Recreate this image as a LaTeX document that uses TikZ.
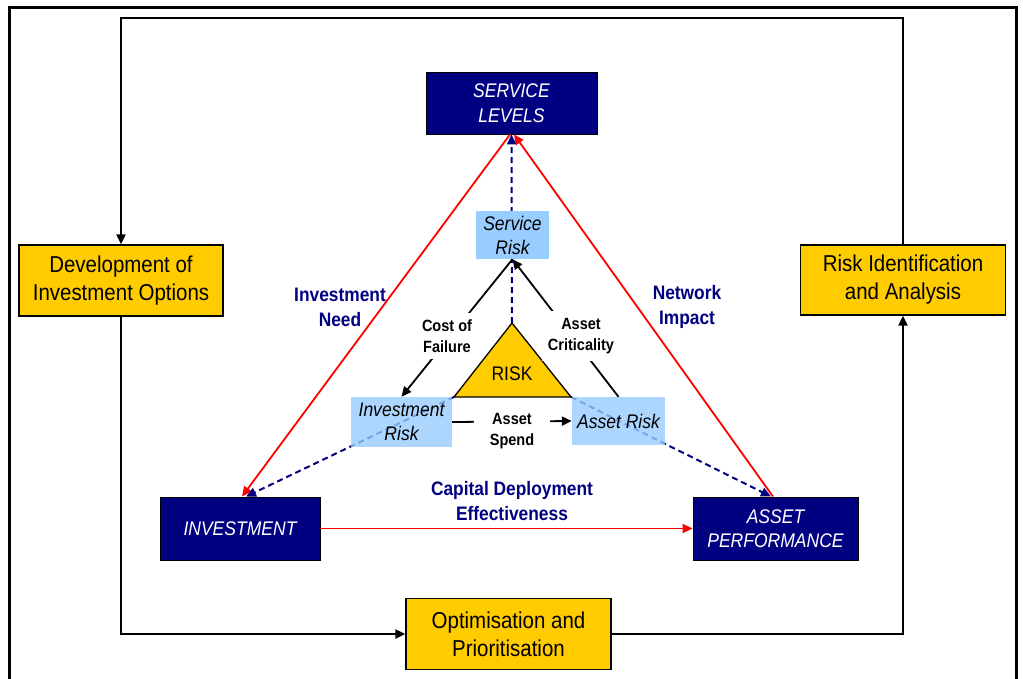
\documentclass[tikz,border=0pt]{standalone}
\usepackage{fontspec}
\setmainfont{Liberation Sans}[FakeStretch=0.89]
\usetikzlibrary{arrows.meta}
\definecolor{navy}{RGB}{0,0,128}
\definecolor{gold}{RGB}{255,204,0}
\definecolor{skyfill}{RGB}{153,204,255}

\begin{document}
\begin{tikzpicture}[x=1pt,y=-1pt,
  tip/.style={-{Triangle[length=10pt,width=9pt]}},
  loopline/.style={line width=2pt,black},
  frameline/.style={line width=3pt,black},
  redline/.style={line width=1.8pt,red,tip},
  navydash/.style={line width=2pt,navy,dash pattern=on 6pt off 4pt,tip},
  blackline/.style={line width=1.8pt,black},
  optbox/.style={draw=black,line width=1.3pt,fill=gold,
    font=\fontsize{23}{28}\selectfont,align=center,inner sep=0pt},
  perfbox/.style={draw=black,line width=0.9pt,fill=navy,text=white,
    font=\fontsize{19.7}{24.5}\selectfont\itshape,align=center,inner sep=0pt},
  riskbox/.style={fill=skyfill,font=\fontsize{19.7}{24}\selectfont\itshape,
    align=center,inner sep=0pt},
  linklabel/.style={fill=white,font=\fontsize{16.3}{21}\selectfont\bfseries,
    align=center,inner xsep=6pt,inner ysep=7pt},
  bluelabel/.style={text=navy,font=\fontsize{19.5}{25}\selectfont\bfseries,
    align=center,inner sep=0pt}
]
\useasboundingbox (0,0) rectangle (1023,678);

% outer frame
\draw[frameline] (9,685) -- (9,7) -- (1016,7) -- (1016,685);

% process boxes of the outer loop
\node[optbox,minimum width=204pt,minimum height=71pt] (dev) at (121,280.5)
  {Development of\\Investment Options};
\node[optbox,minimum width=205pt,minimum height=70pt] (riskid) at (903,280)
  {Risk Identification\\and Analysis};
\node[optbox,minimum width=205pt,minimum height=71pt] (opt) at (508.5,634)
  {Optimisation and\\Prioritisation};

% corners of the outer loop
\coordinate (tl) at (121,18);
\coordinate (tr) at (903,18);
\coordinate (bl) at (121,634);
\coordinate (br) at (903,634);

\draw[loopline,tip] (riskid.north) -- (tr) -- (tl) -- (dev.north);
\draw[loopline,tip] (dev.south) -- (bl) -- (opt.west);
\draw[loopline,tip] (opt.east) -- (br) -- (riskid.south);

% performance triangle corners
\node[perfbox,minimum width=171pt,minimum height=62pt] (sl) at (511.5,103)
  {SERVICE\\LEVELS};
\node[perfbox,minimum width=160pt,minimum height=63pt] (inv) at (240,528.5)
  {INVESTMENT};
\node[perfbox,minimum width=165pt,minimum height=63pt] (ap) at (775.5,528.5)
  {ASSET\\PERFORMANCE};

% red sides of the triangle
\draw[redline] ([xshift=-1.5pt]sl.south) -- ([xshift=2pt]inv.north);
\draw[redline] ([xshift=-2.5pt]ap.north) -- ([xshift=2.5pt]sl.south);
\draw[redline] (inv.east) -- (ap.west);

% central risk triangle
\coordinate (rtop) at (512,323);
\coordinate (rleft) at (454,397);
\coordinate (rright) at (571,397);

% dashed links from the risk triangle
\draw[navydash] (rtop) -- (sl.south);
\draw[navydash] (rleft) -- ([xshift=6pt]inv.north);
\draw[navydash] (rright) -- ([xshift=-4.5pt]ap.north);

\draw[black,line width=1.3pt,fill=gold] (rtop) -- (rleft) -- (rright) -- cycle;
\node[font=\fontsize{19.7}{21}\selectfont,inner sep=0pt] (risklbl) at (512,374) {RISK};

% risk boxes
\node[riskbox,minimum width=73pt,minimum height=48pt] (srisk) at (512.5,235)
  {Service\\Risk};
\node[riskbox,fill opacity=0.8,text opacity=1,minimum width=101pt,minimum height=50pt]
  (irisk) at (401.5,422) {Investment\\Risk};
\node[riskbox,fill opacity=0.8,text opacity=1,minimum width=93pt,minimum height=48pt]
  (arisk) at (618.5,421) {Asset Risk};

% links between risk boxes
\draw[blackline,tip] (srisk.south) -- (irisk.north);
\draw[blackline,tip] (arisk.north) -- (srisk.south);
\draw[blackline,tip] (irisk.east) -- (arisk.west);

\node[linklabel] (cof) at (447,336) {Cost of\\Failure};
\node[linklabel] (acrit) at (581,336) {Asset\\Criticality};
\node[linklabel,inner xsep=16pt,inner ysep=2pt] (aspend) at (512,431) {Asset\\Spend};

% side labels
\node[bluelabel] (ineed) at (340,307) {Investment\\Need};
\node[bluelabel] (nimpact) at (687,307) {Network\\Impact};
\node[bluelabel] (cde) at (512,501) {Capital Deployment\\Effectiveness};
\end{tikzpicture}
\end{document}
